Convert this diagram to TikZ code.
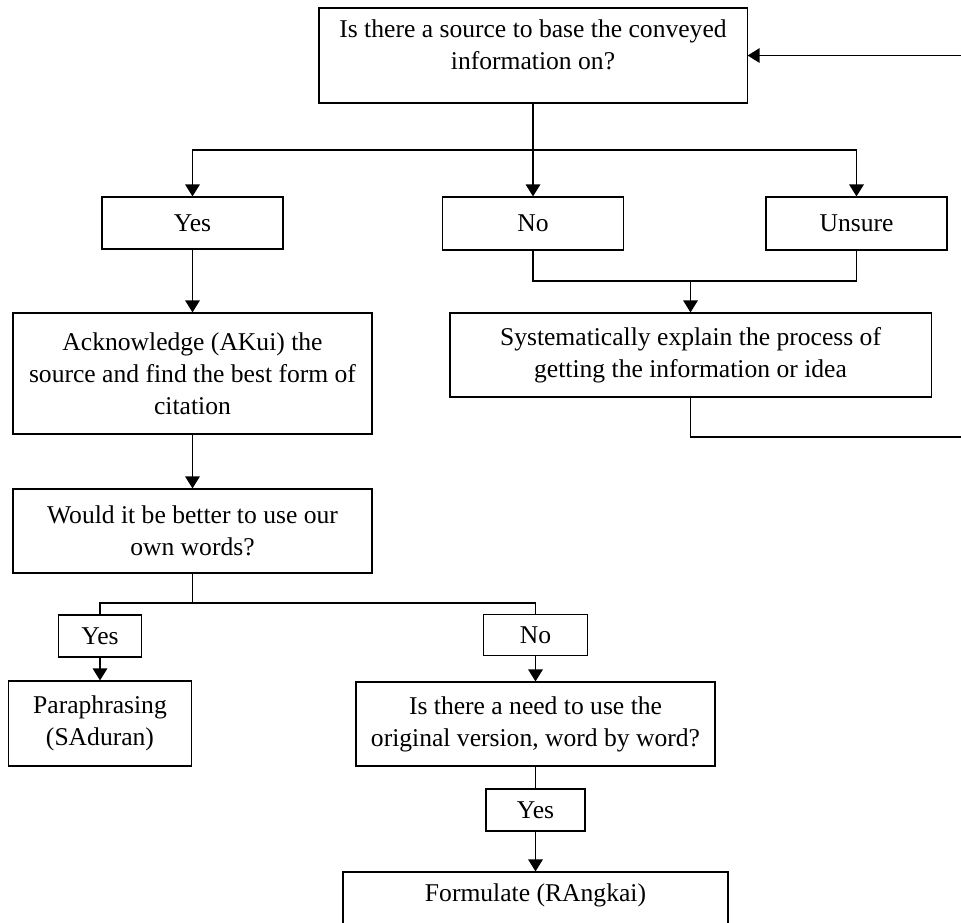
\documentclass[tikz,border=0pt]{standalone}
\usepackage{fontspec}
\setmainfont{Liberation Serif}
\usetikzlibrary{arrows.meta}

\begin{document}
\begin{tikzpicture}[x=0.025cm, y=-0.025cm,
	box/.style={draw, rectangle, line width=0.8pt, align=center, inner sep=0pt, font=\fontsize{18.2}{22.6}\selectfont},
	link/.style={line width=1.3pt},
	>={Triangle[length=3mm, width=3.6mm]}]
	\useasboundingbox (0,0) rectangle (961,922);

	%first question and its three answers
	\node[box, minimum width=10.7cm, minimum height=2.375cm, text depth=0.55cm] (source) at (533,55.5) {Is there a source to base the conveyed\\information on?};
	\node[box, minimum width=4.525cm, minimum height=1.3cm] (yesA) at (192.5,223) {Yes};
	\node[box, minimum width=4.525cm, minimum height=1.325cm] (noA) at (533,223.5) {No};
	\node[box, minimum width=4.525cm, minimum height=1.325cm] (unsure) at (856.5,223.5) {Unsure};
	%
	% NO / UNSURE branch
	\node[box, minimum width=12.025cm, minimum height=2.1cm] (explain) at (690.5,355) {Systematically explain the process of\\getting the information or idea};
	%
	% YES branch
	\node[box, minimum width=8.975cm, minimum height=3.025cm] (acknowledge) at (192.5,373.5) {Acknowledge (AKui) the\\source and find the best form of\\citation};
	\node[box, minimum width=8.975cm, minimum height=2.1cm] (ownwords) at (192.5,531) {Would it be better to use our\\own words?};
	\node[box, minimum width=2.075cm, minimum height=1.05cm] (yesB) at (100,636) {Yes};
	\node[box, minimum width=2.6cm, minimum height=1.025cm] (noB) at (535.5,635) {No};
	\node[box, minimum width=4.575cm, minimum height=2.125cm] (paraphrase) at (100,723.5) {Paraphrasing\\(SAduran)};
	\node[box, minimum width=8.975cm, minimum height=2.1cm] (verbatim) at (535.5,724) {Is there a need to use the\\original version, word by word?};
	\node[box, minimum width=2.475cm, minimum height=1.05cm] (yesC) at (535.5,810) {Yes};
	\node[box, minimum width=9.625cm, minimum height=1.7cm, text depth=0.68cm] (formulate) at (535.5,906) {Formulate (RAngkai)}; % runs off the bottom edge
	%
	% corner points of the connectors
	\coordinate (split) at (533,150);
	\coordinate (merge) at (690.5,281);
	\coordinate (loop) at (980,437); % outside the picture
	\coordinate (fork) at (192.5,603);
	%
	% Arrows
	\draw[link] (source.south) -- (split);
	\draw[link, ->] (split) -| (yesA.north);
	\draw[link, ->] (split) -| (unsure.north);
	\draw[link, ->] (split) -- (noA.north);
	\draw[link] (noA.south) |- (merge) -| (unsure.south);
	\draw[link, ->] (merge) -- (explain.north);
	\draw[link, ->] (explain.south) |- (loop) |- (source.east); % back to the top
	\draw[link, ->] (yesA) -- (acknowledge);
	\draw[link, ->] (acknowledge) -- (ownwords);
	\draw[link] (ownwords.south) -- (fork) -| (yesB.north);
	\draw[link] (fork) -| (noB.north);
	\draw[link, ->] (yesB) -- (paraphrase);
	\draw[link, ->] (noB) -- (verbatim);
	\draw[link] (verbatim) -- (yesC);
	\draw[link, ->] (yesC) -- (formulate);
\end{tikzpicture}
\end{document}
